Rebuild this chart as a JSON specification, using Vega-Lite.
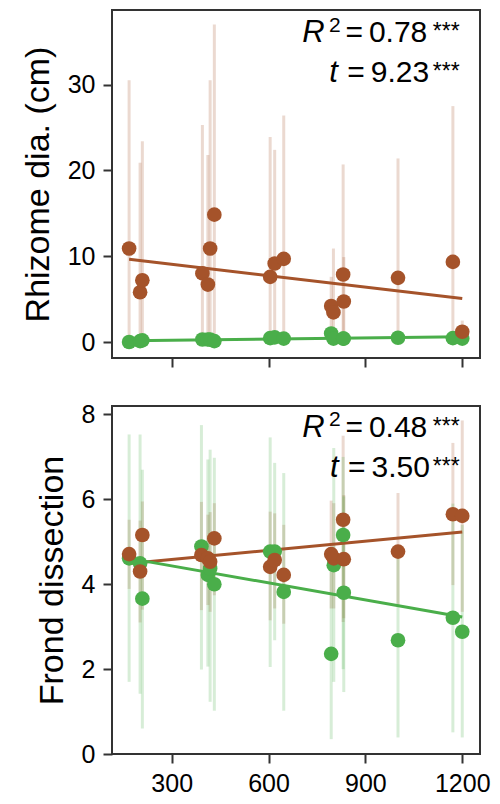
{
  "$schema": "https://vega.github.io/schema/vega-lite/v6.json",
  "padding": {"left": 20, "top": 9, "right": 5, "bottom": 5},
  "background": "white",
  "bounds": "flush",
  "spacing": 48,
  "config": {
    "view": {"stroke": "#333333", "strokeWidth": 2},
    "axis": {
      "domain": false, "grid": false, "ticks": true,
      "tickColor": "#333333", "tickWidth": 2, "tickSize": 9,
      "labelFont": "Liberation Sans", "labelFontSize": 25, "labelColor": "#000000", "labelPadding": 8,
      "titleFont": "Liberation Sans", "titleFontSize": 34, "titleFontWeight": "normal", "titleColor": "#000000"
    },
    "legend": {"disable": true}
  },
  "datasets": {
    "rhizome": [
      {"x": 168, "grp": "G1", "mean": 10.9, "lo": 0, "hi": 30.5},
      {"x": 202, "grp": "G1", "mean": 5.8, "lo": 0, "hi": 20.9},
      {"x": 209, "grp": "G1", "mean": 7.2, "lo": 0, "hi": 23.4},
      {"x": 395, "grp": "G1", "mean": 8.0, "lo": 0, "hi": 25.3},
      {"x": 412, "grp": "G1", "mean": 6.7, "lo": 0, "hi": 21.8},
      {"x": 419, "grp": "G1", "mean": 10.9, "lo": 0, "hi": 30.5},
      {"x": 432, "grp": "G1", "mean": 14.85, "lo": 0, "hi": 37.0},
      {"x": 605, "grp": "G1", "mean": 7.6, "lo": 0, "hi": 23.9},
      {"x": 619, "grp": "G1", "mean": 9.15, "lo": 0, "hi": 22.4},
      {"x": 647, "grp": "G1", "mean": 9.7, "lo": 0, "hi": 26.4},
      {"x": 794, "grp": "G1", "mean": 4.2, "lo": 0, "hi": 7.6},
      {"x": 801, "grp": "G1", "mean": 3.45, "lo": 0, "hi": 10.9},
      {"x": 831, "grp": "G1", "mean": 7.87, "lo": 0, "hi": 20.7},
      {"x": 833, "grp": "G1", "mean": 4.73, "lo": 0, "hi": 9.9},
      {"x": 1001, "grp": "G1", "mean": 7.48, "lo": 0, "hi": 21.4},
      {"x": 1171, "grp": "G1", "mean": 9.34, "lo": 0, "hi": 27.5},
      {"x": 1200, "grp": "G1", "mean": 1.2, "lo": 0, "hi": 2.5},
      {"x": 168, "grp": "G2", "mean": 0.0, "lo": 0, "hi": 0.4},
      {"x": 202, "grp": "G2", "mean": 0.1, "lo": 0, "hi": 0.5},
      {"x": 209, "grp": "G2", "mean": 0.2, "lo": 0, "hi": 0.6},
      {"x": 395, "grp": "G2", "mean": 0.3, "lo": 0, "hi": 0.7},
      {"x": 412, "grp": "G2", "mean": 0.3, "lo": 0, "hi": 0.7},
      {"x": 419, "grp": "G2", "mean": 0.3, "lo": 0, "hi": 0.7},
      {"x": 432, "grp": "G2", "mean": 0.1, "lo": 0, "hi": 0.5},
      {"x": 605, "grp": "G2", "mean": 0.45, "lo": 0.1, "hi": 0.9},
      {"x": 619, "grp": "G2", "mean": 0.55, "lo": 0.1, "hi": 1.0},
      {"x": 647, "grp": "G2", "mean": 0.4, "lo": 0.1, "hi": 0.8},
      {"x": 794, "grp": "G2", "mean": 1.0, "lo": 0.3, "hi": 1.7},
      {"x": 801, "grp": "G2", "mean": 0.4, "lo": 0.1, "hi": 0.8},
      {"x": 831, "grp": "G2", "mean": 0.4, "lo": 0.1, "hi": 0.8},
      {"x": 833, "grp": "G2", "mean": 0.4, "lo": 0.1, "hi": 0.8},
      {"x": 1001, "grp": "G2", "mean": 0.5, "lo": 0.1, "hi": 0.9},
      {"x": 1171, "grp": "G2", "mean": 0.45, "lo": 0.1, "hi": 0.9},
      {"x": 1200, "grp": "G2", "mean": 0.4, "lo": 0.1, "hi": 0.8}
    ],
    "frond": [
      {"x": 168, "grp": "G1", "mean": 4.71, "lo": 3.89, "hi": 5.52},
      {"x": 202, "grp": "G1", "mean": 4.30, "lo": 3.1, "hi": 5.5},
      {"x": 209, "grp": "G1", "mean": 5.16, "lo": 3.4, "hi": 5.95},
      {"x": 392, "grp": "G1", "mean": 4.69, "lo": 3.39, "hi": 5.94},
      {"x": 412, "grp": "G1", "mean": 4.61, "lo": 3.51, "hi": 5.64},
      {"x": 419, "grp": "G1", "mean": 4.53, "lo": 3.35, "hi": 5.7},
      {"x": 432, "grp": "G1", "mean": 5.08, "lo": 3.74, "hi": 5.91},
      {"x": 605, "grp": "G1", "mean": 4.41, "lo": 3.15, "hi": 5.71},
      {"x": 619, "grp": "G1", "mean": 4.57, "lo": 3.43, "hi": 5.67},
      {"x": 647, "grp": "G1", "mean": 4.22, "lo": 3.07, "hi": 5.40},
      {"x": 794, "grp": "G1", "mean": 4.71, "lo": 3.43, "hi": 5.97},
      {"x": 802, "grp": "G1", "mean": 4.61, "lo": 3.43, "hi": 5.91},
      {"x": 831, "grp": "G1", "mean": 5.52, "lo": 3.11, "hi": 7.5},
      {"x": 833, "grp": "G1", "mean": 4.59, "lo": 3.2, "hi": 6.1},
      {"x": 1001, "grp": "G1", "mean": 4.77, "lo": 3.47, "hi": 6.15},
      {"x": 1171, "grp": "G1", "mean": 5.65, "lo": 3.98, "hi": 7.33},
      {"x": 1200, "grp": "G1", "mean": 5.61, "lo": 3.35, "hi": 7.86},
      {"x": 168, "grp": "G2", "mean": 4.61, "lo": 1.70, "hi": 7.53},
      {"x": 202, "grp": "G2", "mean": 4.49, "lo": 1.42, "hi": 7.53},
      {"x": 209, "grp": "G2", "mean": 3.66, "lo": 0.6, "hi": 6.70},
      {"x": 392, "grp": "G2", "mean": 4.89, "lo": 1.99, "hi": 7.75},
      {"x": 412, "grp": "G2", "mean": 4.22, "lo": 2.06, "hi": 6.94},
      {"x": 419, "grp": "G2", "mean": 4.37, "lo": 1.23, "hi": 7.17},
      {"x": 432, "grp": "G2", "mean": 4.0, "lo": 1.02, "hi": 6.98},
      {"x": 605, "grp": "G2", "mean": 4.77, "lo": 2.05, "hi": 7.46},
      {"x": 619, "grp": "G2", "mean": 4.77, "lo": 2.68, "hi": 6.86},
      {"x": 647, "grp": "G2", "mean": 3.82, "lo": 1.02, "hi": 6.62},
      {"x": 794, "grp": "G2", "mean": 2.36, "lo": 0.35, "hi": 4.4},
      {"x": 802, "grp": "G2", "mean": 4.45, "lo": 1.70, "hi": 7.21},
      {"x": 831, "grp": "G2", "mean": 5.16, "lo": 2.0, "hi": 7.0},
      {"x": 833, "grp": "G2", "mean": 3.80, "lo": 1.46, "hi": 6.07},
      {"x": 1001, "grp": "G2", "mean": 2.68, "lo": 0.39, "hi": 4.9},
      {"x": 1171, "grp": "G2", "mean": 3.21, "lo": 0.51, "hi": 5.9},
      {"x": 1200, "grp": "G2", "mean": 2.88, "lo": 0.39, "hi": 5.4}
    ],
    "rhizome_fit": [
      {"x": 168, "grp": "G1", "fit": 9.65},
      {"x": 1200, "grp": "G1", "fit": 5.08},
      {"x": 168, "grp": "G2", "fit": 0.15},
      {"x": 1200, "grp": "G2", "fit": 0.62}
    ],
    "frond_fit": [
      {"x": 168, "grp": "G1", "fit": 4.49},
      {"x": 1200, "grp": "G1", "fit": 5.23},
      {"x": 168, "grp": "G2", "fit": 4.61},
      {"x": 1200, "grp": "G2", "fit": 3.23}
    ],
    "rhizome_note": [
      {"part": "sym", "x": 704, "y": 35.0, "label": "R"},
      {"part": "sup", "x": 787, "y": 36.1, "label": "2"},
      {"part": "val", "x": 838, "y": 35.0, "label": "=\u20090.78"},
      {"part": "star", "x": 1109, "y": 35.35, "label": "***"},
      {"part": "sym", "x": 788, "y": 30.35, "label": "t"},
      {"part": "val", "x": 844, "y": 30.35, "label": "=\u20099.23"},
      {"part": "star", "x": 1109, "y": 30.6, "label": "***"}
    ],
    "frond_note": [
      {"part": "sym", "x": 704, "y": 7.48, "label": "R"},
      {"part": "sup", "x": 787, "y": 7.72, "label": "2"},
      {"part": "val", "x": 838, "y": 7.48, "label": "=\u20090.48"},
      {"part": "star", "x": 1109, "y": 7.55, "label": "***"},
      {"part": "sym", "x": 790, "y": 6.53, "label": "t"},
      {"part": "val", "x": 846, "y": 6.53, "label": "=\u20093.50"},
      {"part": "star", "x": 1109, "y": 6.6, "label": "***"}
    ]
  },
  "vconcat": [
    {
      "width": 368, "height": 348,
      "layer": [
        {
          "data": {"name": "rhizome"},
          "mark": {"type": "rule", "strokeWidth": 3, "opacity": 0.22},
          "encoding": {
            "x": {"field": "x", "type": "quantitative", "scale": {"domain": [115, 1255], "nice": false, "zero": false}, "axis": {"values": [300, 600, 900, 1200], "labels": false, "title": null}},
            "y": {"field": "lo", "type": "quantitative", "scale": {"domain": [-1.86, 38.7], "nice": false, "zero": false}, "axis": {"values": [0, 10, 20, 30], "title": "Rhizome dia. (cm)", "titlePadding": 12}},
            "y2": {"field": "hi"},
            "color": {"field": "grp", "type": "nominal", "scale": {"domain": ["G1", "G2"], "range": ["#A5532A", "#4AAE4A"]}}
          }
        },
        {
          "data": {"name": "rhizome_fit"},
          "mark": {"type": "line", "strokeWidth": 3},
          "encoding": {
            "x": {"field": "x", "type": "quantitative"},
            "y": {"field": "fit", "type": "quantitative"},
            "color": {"field": "grp", "type": "nominal"}
          }
        },
        {
          "data": {"name": "rhizome"},
          "transform": [{"filter": "datum.grp === 'G2'"}],
          "mark": {"type": "circle", "size": 215, "opacity": 1},
          "encoding": {
            "x": {"field": "x", "type": "quantitative"},
            "y": {"field": "mean", "type": "quantitative"},
            "color": {"field": "grp", "type": "nominal"}
          }
        },
        {
          "data": {"name": "rhizome"},
          "transform": [{"filter": "datum.grp === 'G1'"}],
          "mark": {"type": "circle", "size": 215, "opacity": 1},
          "encoding": {
            "x": {"field": "x", "type": "quantitative"},
            "y": {"field": "mean", "type": "quantitative"},
            "color": {"field": "grp", "type": "nominal"}
          }
        },
        {
          "data": {"name": "rhizome_note"},
          "transform": [{"filter": "datum.part === 'sym'"}],
          "mark": {"type": "text", "font": "Liberation Sans", "fontSize": 31, "fontStyle": "italic", "align": "left", "baseline": "alphabetic", "color": "#000000"},
          "encoding": {"x": {"field": "x", "type": "quantitative"}, "y": {"field": "y", "type": "quantitative"}, "text": {"field": "label"}}
        },
        {
          "data": {"name": "rhizome_note"},
          "transform": [{"filter": "datum.part === 'sup'"}],
          "mark": {"type": "text", "font": "Liberation Sans", "fontSize": 21, "align": "left", "baseline": "alphabetic", "color": "#000000"},
          "encoding": {"x": {"field": "x", "type": "quantitative"}, "y": {"field": "y", "type": "quantitative"}, "text": {"field": "label"}}
        },
        {
          "data": {"name": "rhizome_note"},
          "transform": [{"filter": "datum.part === 'val'"}],
          "mark": {"type": "text", "font": "Liberation Sans", "fontSize": 30, "align": "left", "baseline": "alphabetic", "color": "#000000"},
          "encoding": {"x": {"field": "x", "type": "quantitative"}, "y": {"field": "y", "type": "quantitative"}, "text": {"field": "label"}}
        },
        {
          "data": {"name": "rhizome_note"},
          "transform": [{"filter": "datum.part === 'star'"}],
          "mark": {"type": "text", "font": "Liberation Sans", "fontSize": 23, "align": "left", "baseline": "alphabetic", "color": "#000000"},
          "encoding": {"x": {"field": "x", "type": "quantitative"}, "y": {"field": "y", "type": "quantitative"}, "text": {"field": "label"}}
        }
      ]
    },
    {
      "width": 368, "height": 348,
      "layer": [
        {
          "data": {"name": "frond"},
          "mark": {"type": "rule", "strokeWidth": 3, "opacity": 0.22},
          "encoding": {
            "x": {"field": "x", "type": "quantitative", "scale": {"domain": [115, 1255], "nice": false, "zero": false}, "axis": {"values": [300, 600, 900, 1200], "format": "d", "title": null}},
            "y": {"field": "lo", "type": "quantitative", "scale": {"domain": [0, 8.2], "nice": false, "zero": false}, "axis": {"values": [0, 2, 4, 6, 8], "title": "Frond dissection", "titlePadding": 12}},
            "y2": {"field": "hi"},
            "color": {"field": "grp", "type": "nominal", "scale": {"domain": ["G1", "G2"], "range": ["#A5532A", "#4AAE4A"]}}
          }
        },
        {
          "data": {"name": "frond_fit"},
          "mark": {"type": "line", "strokeWidth": 3},
          "encoding": {
            "x": {"field": "x", "type": "quantitative"},
            "y": {"field": "fit", "type": "quantitative"},
            "color": {"field": "grp", "type": "nominal"}
          }
        },
        {
          "data": {"name": "frond"},
          "transform": [{"filter": "datum.grp === 'G2'"}],
          "mark": {"type": "circle", "size": 215, "opacity": 1},
          "encoding": {
            "x": {"field": "x", "type": "quantitative"},
            "y": {"field": "mean", "type": "quantitative"},
            "color": {"field": "grp", "type": "nominal"}
          }
        },
        {
          "data": {"name": "frond"},
          "transform": [{"filter": "datum.grp === 'G1'"}],
          "mark": {"type": "circle", "size": 215, "opacity": 1},
          "encoding": {
            "x": {"field": "x", "type": "quantitative"},
            "y": {"field": "mean", "type": "quantitative"},
            "color": {"field": "grp", "type": "nominal"}
          }
        },
        {
          "data": {"name": "frond_note"},
          "transform": [{"filter": "datum.part === 'sym'"}],
          "mark": {"type": "text", "font": "Liberation Sans", "fontSize": 31, "fontStyle": "italic", "align": "left", "baseline": "alphabetic", "color": "#000000"},
          "encoding": {"x": {"field": "x", "type": "quantitative"}, "y": {"field": "y", "type": "quantitative"}, "text": {"field": "label"}}
        },
        {
          "data": {"name": "frond_note"},
          "transform": [{"filter": "datum.part === 'sup'"}],
          "mark": {"type": "text", "font": "Liberation Sans", "fontSize": 21, "align": "left", "baseline": "alphabetic", "color": "#000000"},
          "encoding": {"x": {"field": "x", "type": "quantitative"}, "y": {"field": "y", "type": "quantitative"}, "text": {"field": "label"}}
        },
        {
          "data": {"name": "frond_note"},
          "transform": [{"filter": "datum.part === 'val'"}],
          "mark": {"type": "text", "font": "Liberation Sans", "fontSize": 30, "align": "left", "baseline": "alphabetic", "color": "#000000"},
          "encoding": {"x": {"field": "x", "type": "quantitative"}, "y": {"field": "y", "type": "quantitative"}, "text": {"field": "label"}}
        },
        {
          "data": {"name": "frond_note"},
          "transform": [{"filter": "datum.part === 'star'"}],
          "mark": {"type": "text", "font": "Liberation Sans", "fontSize": 23, "align": "left", "baseline": "alphabetic", "color": "#000000"},
          "encoding": {"x": {"field": "x", "type": "quantitative"}, "y": {"field": "y", "type": "quantitative"}, "text": {"field": "label"}}
        }
      ]
    }
  ]
}
